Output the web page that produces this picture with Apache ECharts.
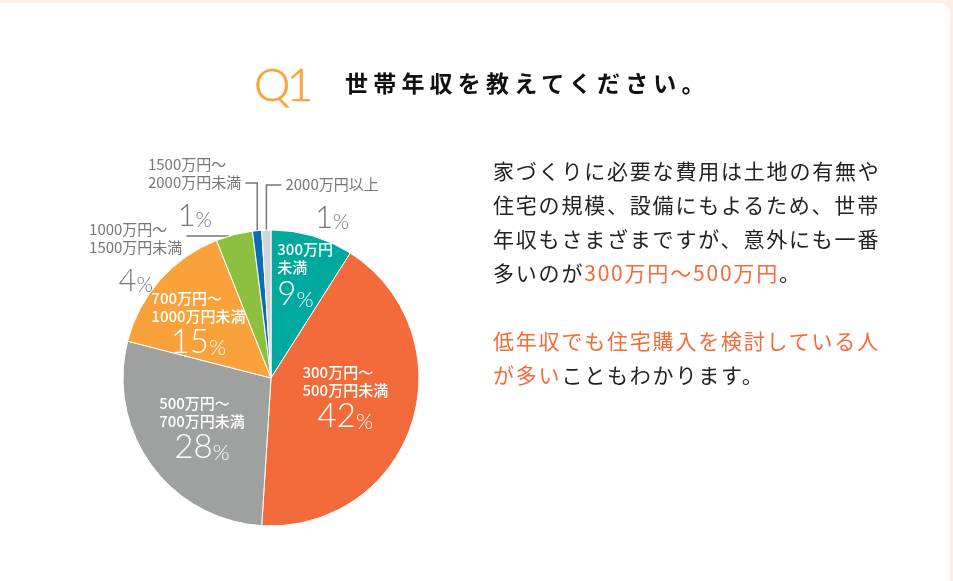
<!DOCTYPE html>
<html>
<head>
<meta charset="utf-8">
<script src="https://cdn.jsdelivr.net/npm/echarts@6/dist/echarts.min.js"></script>
<style>
  html, body { margin: 0; padding: 0; }
  body { width: 953px; height: 581px; background: #fdf0e1; position: relative; overflow: hidden; }
  #card { position: absolute; left: -20px; top: 3px; width: 970px; height: 620px; background: #fff; border-radius: 10px; }
  #chart { position: absolute; left: 0; top: 0; width: 953px; height: 581px; }
  .txt { position: absolute; white-space: nowrap; font-family: 'Noto Sans CJK JP', 'Noto Sans', sans-serif; }
  #q { left: 254px; top: 54px; font: 300 46px/60px Lato, 'Noto Sans', sans-serif; letter-spacing: -4px; color: #f7a43a; -webkit-text-stroke: 0.6px #f7a43a; }
  #title { left: 345px; top: 66px; font-size: 23px; line-height: 32px; font-weight: bold; letter-spacing: 5.2px; color: #111; }
  #para { left: 493px; top: 153px; font-size: 21px; line-height: 34px; letter-spacing: 1.8px; color: #222; }
  .o { color: #f26b38; }
</style>
</head>
<body>
<div id="card"></div>
<div id="chart"></div>
<div id="q" class="txt">Q1</div>
<div id="title" class="txt">世帯年収を教えてください。</div>
<div id="para" class="txt">家づくりに必要な費用は土地の有無や<br>住宅の規模、設備にもよるため、世帯<br>年収もさまざまですが、意外にも一番<br>多いのが<span class="o">300万円～500万円</span>。<br><br><span class="o">低年収でも住宅購入を検討している人<br>が多い</span>こともわかります。</div>
<script>
// ---- data ----
const categories = ['300万円未満', '300万円～500万円未満', '500万円～700万円未満', '700万円～1000万円未満', '1000万円～1500万円未満', '1500万円～2000万円未満', '2000万円以上'];
const labelText = [['300万円', '未満'], ['300万円～', '500万円未満'], ['500万円～', '700万円未満'], ['700万円～', '1000万円未満'], ['1000万円～', '1500万円未満'], ['1500万円～', '2000万円未満'], ['2000万円以上']];
const values = [9, 42, 28, 15, 4, 1, 1];

// ---- style ----
const colors = ['#00a99d', '#f36b3b', '#9fa0a0', '#f9a13a', '#8dc03f', '#0c6db3', '#d3d4d5'];
const CX = 271, CY = 378, R = 148;
const insideIdx = [0, 1, 2, 3];
// [radius fraction, angle offset from slice middle (deg)]
const insidePos = { 0: [0.73, 2.2], 1: [0.52, -3], 2: [0.58, -0.5], 3: [0.61, -4.9] };
// outside leader config
const outsidePos = {
  4: { frac: 0.25, depth: 10, elbow: 6, run: -42, textDy: -16 },
  5: { frac: 0.5, depth: 2, elbow: -47, run: -12, textDy: -28 },
  6: { frac: 0.5, depth: 2, elbow: -45, run: 15, textDy: -10 }
};

const total = values.reduce((a, b) => a + b, 0);
function sliceRange(i) {
  let s = 0;
  for (let k = 0; k < i; k++) s += values[k];
  return [s / total * 360, (s + values[i]) / total * 360];
}
function pt(angDeg, r) {
  const a = angDeg * Math.PI / 180;
  return [CX + r * Math.sin(a), CY - r * Math.cos(a)];
}

const chart = echarts.init(document.getElementById('chart'), null, { renderer: 'canvas' });

const data = categories.map((name, i) => {
  const inside = insideIdx.indexOf(i) >= 0;
  return {
    name: name,
    value: values[i],
    itemStyle: { color: colors[i] },
    label: inside ? { position: 'inside', color: '#fff' } : { position: 'outside', color: '#777' },
    labelLine: { show: !inside }
  };
});

const pctFont = 'Lato';
chart.setOption({
  animation: false,
  series: [{
    type: 'pie',
    center: [CX, CY],
    radius: R,
    startAngle: 90,
    clockwise: true,
    avoidLabelOverlap: false,
    itemStyle: { borderColor: '#fff', borderWidth: 1 },
    emphasis: { disabled: true },
    labelLine: { show: true, lineStyle: { color: '#777', width: 1.5 }, length: 10, length2: 10 },
    label: {
      show: true,
      formatter: function (p) {
        const i = p.dataIndex;
        const inside = insideIdx.indexOf(i) >= 0;
        const t = inside ? 't' : 'to';
        const lines = labelText[i].map(l => '{' + t + '|' + l + '}');
        const pk = inside ? (i === 0 ? 'pl' : 'p') : 'po';
        const sk = inside ? (i === 0 ? 'sl' : 's') : 'so';
        return lines.join('\n') + '\n{' + pk + '|' + values[i] + '}{' + sk + '|%}';
      },
      rich: {
        t: { fontFamily: 'Noto Sans CJK JP', fontSize: 15, fontWeight: 500, lineHeight: 18, color: '#fff', align: 'left' },
        p: { fontFamily: pctFont, fontSize: 33, fontWeight: 300, lineHeight: 34, color: '#fff', align: 'center', verticalAlign: 'bottom' },
        s: { fontFamily: pctFont, fontSize: 22, fontWeight: 300, lineHeight: 34, color: '#fff', align: 'center', verticalAlign: 'bottom' },
        pl: { fontFamily: pctFont, fontSize: 33, fontWeight: 300, lineHeight: 34, color: '#fff', align: 'left', verticalAlign: 'bottom' },
        sl: { fontFamily: pctFont, fontSize: 22, fontWeight: 300, lineHeight: 34, color: '#fff', align: 'left', verticalAlign: 'bottom' },
        to: { fontFamily: 'Noto Sans CJK JP', fontSize: 15, lineHeight: 18, color: '#777', align: 'left' },
        po: { fontFamily: pctFont, fontSize: 31, fontWeight: 300, lineHeight: 40, color: '#777', align: 'center', verticalAlign: 'bottom' },
        so: { fontFamily: pctFont, fontSize: 21, fontWeight: 300, lineHeight: 40, color: '#777', align: 'center', verticalAlign: 'bottom' }
      }
    },
    labelLayout: function (params) {
      const i = params.dataIndex;
      const rng = sliceRange(i);
      if (insidePos[i]) {
        const mid = (rng[0] + rng[1]) / 2 + insidePos[i][1];
        const p = pt(mid, R * insidePos[i][0]);
        return { x: p[0], y: p[1], align: 'center', verticalAlign: 'middle' };
      }
      const c = outsidePos[i];
      const ang = rng[0] + (rng[1] - rng[0]) * c.frac;
      const p0 = pt(ang, R - c.depth);
      const ey = CY - R + c.elbow;
      const p1 = [p0[0], ey];
      const p2 = [p0[0] + c.run, ey];
      const gap = 4;
      return {
        x: c.run < 0 ? p2[0] - gap : p2[0] + gap,
        y: ey + c.textDy,
        align: c.run < 0 ? 'right' : 'left',
        verticalAlign: 'top',
        labelLinePoints: [p0, p1, p2]
      };
    },
    data: data
  }]
});
</script>
</body>
</html>
